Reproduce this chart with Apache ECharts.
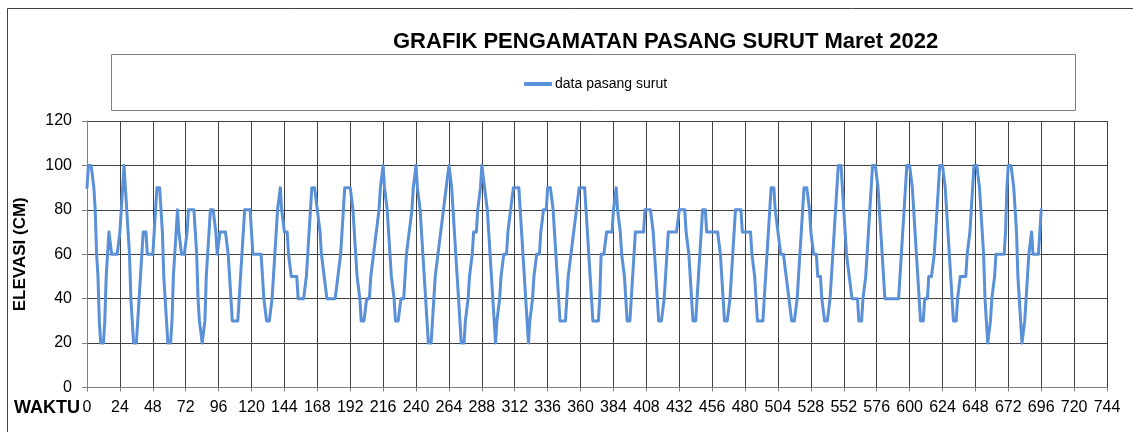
<!DOCTYPE html>
<html>
<head>
<meta charset="utf-8">
<script src="https://cdn.jsdelivr.net/npm/echarts@6/dist/echarts.min.js"></script>
<style>
html,body{margin:0;padding:0;background:#fff;}
#chart{width:1133px;height:432px;}
</style>
</head>
<body>
<div id="chart"></div>
<script>
// Chart text
const titleText = 'GRAFIK PENGAMATAN PASANG SURUT Maret 2022';
const seriesName = 'data pasang surut';
const xAxisTitle = 'WAKTU';
const yAxisTitle = 'ELEVASI (CM)';

// X axis ticks (hours), Y axis ticks (cm)
const xTicks = [0,24,48,72,96,120,144,168,192,216,240,264,288,312,336,360,384,408,432,456,480,504,528,552,576,600,624,648,672,696,720,744];
const yTicks = [0,20,40,60,80,100,120];

// Hourly observation start hour
const firstHour = 0;

// Hourly water elevation (cm), one row per day (24 values)
const elevation = [
  90,100,100,100,100,90,80,60,50,30,20,20,20,30,50,60,70,70,60,60,60,60,60,60,
  70,80,90,100,90,80,70,60,40,30,20,20,20,30,40,50,60,70,70,70,60,60,60,60,
  60,70,80,90,90,90,80,70,50,40,30,20,20,20,30,50,60,70,80,70,70,60,60,60,
  60,70,80,80,80,80,80,70,60,40,30,30,20,20,30,50,60,70,80,80,80,80,70,60,
  60,70,70,70,70,70,70,60,50,40,30,30,30,30,30,40,50,60,70,80,80,80,80,80,
  70,60,60,60,60,60,60,60,50,40,40,30,30,30,30,40,50,60,70,80,80,90,80,80,
  70,70,70,60,60,50,50,50,50,50,40,40,40,40,40,40,50,60,70,80,90,90,90,90,
  80,80,70,60,60,50,50,40,40,40,40,40,40,40,40,50,50,60,70,80,90,90,90,90,
  90,90,80,70,60,50,50,40,30,30,30,30,40,40,40,50,50,60,60,70,70,80,90,90,
  100,90,90,80,70,60,50,50,40,30,30,30,30,40,40,40,50,60,60,70,70,80,90,90,
  100,90,90,80,70,60,50,40,30,20,20,20,30,40,50,50,60,60,70,70,80,80,90,90,
  100,100,90,80,70,60,50,40,30,20,20,20,30,30,40,50,50,60,70,70,70,80,80,90,
  100,100,90,90,80,70,60,50,40,30,20,30,30,40,50,50,60,60,60,70,70,80,80,90,
  90,90,90,90,80,70,60,50,40,30,20,30,30,40,50,50,60,60,60,70,70,80,80,80,
  90,90,90,90,80,70,60,50,40,30,30,30,30,30,40,50,50,60,60,70,70,80,80,90,
  90,90,90,90,80,70,60,50,40,30,30,30,30,30,40,60,60,60,60,70,70,70,70,70,
  80,80,90,80,80,70,60,60,50,40,30,30,30,40,50,60,70,70,70,70,70,70,70,80,
  80,80,80,80,80,70,60,50,40,30,30,30,30,40,50,60,70,70,70,70,70,70,70,70,
  80,80,80,80,80,70,70,60,50,40,30,30,30,40,50,60,70,80,80,80,70,70,70,70,
  70,70,70,70,70,70,60,50,40,30,30,30,30,40,50,60,70,80,80,80,80,80,70,70,
  70,70,70,70,70,60,60,50,40,30,30,30,30,30,40,50,60,70,80,90,90,90,80,80,
  70,70,60,60,60,60,50,50,40,40,30,30,30,30,40,50,60,70,80,90,90,90,90,80,
  70,70,60,60,60,50,50,50,40,40,30,30,30,30,40,50,60,70,80,90,100,100,100,90,
  80,70,60,60,50,50,40,40,40,40,40,30,30,30,40,40,50,60,70,80,90,100,100,100,
  100,90,80,70,60,50,40,40,40,40,40,40,40,40,40,40,40,50,60,70,80,90,100,100,
  100,100,90,80,70,60,50,40,30,30,30,40,40,40,50,50,50,50,60,70,80,90,100,100,
  100,100,90,80,70,60,50,40,30,30,30,40,40,50,50,50,50,50,60,60,70,80,90,100,
  100,100,100,90,80,70,60,40,30,20,20,30,40,40,50,60,60,60,60,60,60,60,70,90,
  100,100,100,100,90,80,70,50,40,30,20,20,30,40,50,60,60,70,60,60,60,60,60,70,80
];

const seriesData = elevation.map((v, i) => [firstHour + i, v]);

const chart = echarts.init(document.getElementById('chart'), null, {renderer: 'canvas'});
const font = "'Liberation Sans', Arial, sans-serif";

chart.setOption({
  animation: false,
  backgroundColor: '#ffffff',
  title: {
    text: titleText,
    left: 388,
    top: 26,
    textStyle: {fontFamily: font, fontSize: 22, fontWeight: 'bold', color: '#000'}
  },
  legend: {
    data: [seriesName],
    left: 519,
    top: 72,
    icon: 'roundRect',
    itemWidth: 28,
    itemHeight: 4,
    itemGap: 4,
    textStyle: {fontFamily: font, fontSize: 14, color: '#000', padding: [0,0,0,-2]}
  },
  graphic: [
    {type: 'rect', silent: true, z: -1, shape: {x: 7.5, y: 8.5, width: 1200, height: 500},
     style: {fill: 'none', stroke: '#404040', lineWidth: 1}},
    {type: 'rect', silent: true, shape: {x: 111.5, y: 54.5, width: 964, height: 56},
     style: {fill: 'none', stroke: '#808080', lineWidth: 1}},
    {type: 'text', left: 14, top: 399,
     style: {text: xAxisTitle, font: "bold 18px 'Liberation Sans', Arial", fill: '#000'}}
  ],
  grid: {left: 87, right: 26, top: 121, bottom: 44.5, containLabel: false},
  xAxis: {
    type: 'value',
    min: xTicks[0],
    max: xTicks[xTicks.length - 1],
    interval: xTicks[1] - xTicks[0],
    axisLine: {show: true, lineStyle: {color: '#808080', width: 1}},
    axisTick: {show: true, length: 4, lineStyle: {color: '#808080'}},
    splitLine: {show: true, lineStyle: {color: '#404040', width: 1}},
    axisLabel: {fontFamily: font, fontSize: 16, color: '#000', margin: 12}
  },
  yAxis: {
    type: 'value',
    min: yTicks[0],
    max: yTicks[yTicks.length - 1],
    interval: yTicks[1] - yTicks[0],
    name: yAxisTitle,
    nameLocation: 'middle',
    nameRotate: 90,
    nameGap: 58,
    nameTextStyle: {fontFamily: font, fontSize: 17, fontWeight: 'bold', color: '#000'},
    axisLine: {show: true, lineStyle: {color: '#808080', width: 1}},
    axisTick: {show: true, length: 5, lineStyle: {color: '#808080'}},
    splitLine: {show: true, lineStyle: {color: '#404040', width: 1}},
    axisLabel: {fontFamily: font, fontSize: 16, color: '#000', margin: 15}
  },
  series: [{
    name: seriesName,
    type: 'line',
    data: seriesData,
    showSymbol: false,
    symbol: 'none',
    lineStyle: {color: '#5990D8', width: 3, cap: 'round', join: 'round'},
    itemStyle: {color: '#5990D8'}
  }]
});
</script>
</body>
</html>
